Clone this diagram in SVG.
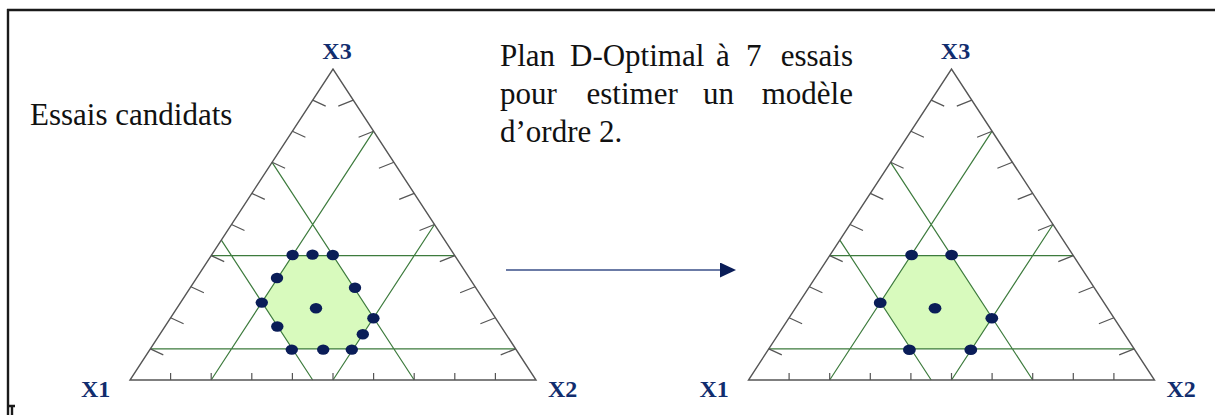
<svg xmlns="http://www.w3.org/2000/svg" xmlns:xlink="http://www.w3.org/1999/xlink" width="1215" height="415" viewBox="0 0 1215 415">
<style>
.frame{fill:none;stroke:#1a1a1a;stroke-width:2.4}
.tri{fill:none;stroke:#555;stroke-width:1.4;stroke-linejoin:miter}
.tick{fill:none;stroke:#555;stroke-width:1.2}
.grid{fill:none;stroke:#3d7b3d;stroke-width:1.2}
.hex{fill:#d8fabd;stroke:none}
.dot{fill:#0a1d58}
.lbl{font-family:"Liberation Serif","Times New Roman",serif;font-weight:bold;font-size:24px;fill:#112d6e}
.txt{font-family:"Liberation Serif","Times New Roman",serif;font-size:31px;fill:#111}
.arrow{fill:none;stroke:#3a4f88;stroke-width:1.6}
</style>
<defs>
<marker id="ah" markerUnits="userSpaceOnUse" markerWidth="18" markerHeight="18" refX="2" refY="7.5" orient="auto">
<path d="M0 0 L16 7.5 L0 15 Z" fill="#0a1d58"/>
</marker>
<g id="plot">
<polygon class="hex" points="292.4,255.6 333,255.6 373.6,317.8 353.3,348.9 292.4,348.9 261.95,302.25"/>
<path class="grid" d="M150.3 348.9 H515.7 M211.2 255.6 H454.8 M211.2 380 L373.6 131.2 M333 380 L434.5 224.5 M414.2 380 L272.1 162.3 M312.7 380 L221.35 240.05"/>
<polygon class="tri" points="130,380 536,380 333,69"/>
<path class="tick" d="M150.3 348.9 l13 6 M170.6 317.8 l13 6 M190.9 286.7 l13 6 M211.2 255.6 l13 6 M231.5 224.5 l13 6 M251.8 193.4 l13 6 M272.1 162.3 l13 6 M292.4 131.2 l13 6 M312.7 100.1 l13 6
M515.7 348.9 l-15 6 M495.4 317.8 l-15 6 M475.1 286.7 l-15 6 M454.8 255.6 l-15 6 M434.5 224.5 l-15 6 M414.2 193.4 l-15 6 M393.9 162.3 l-15 6 M373.6 131.2 l-15 6 M353.3 100.1 l-15 6
M170.6 380 v-7 M211.2 380 v-7 M251.8 380 v-7 M292.4 380 v-7 M333 380 v-7 M373.6 380 v-7 M414.2 380 v-7 M454.8 380 v-7 M495.4 380 v-7"/>
<text class="lbl" x="337" y="59" text-anchor="middle">X3</text>
<text class="lbl" x="81" y="397">X1</text>
<text class="lbl" x="548" y="397">X2</text>
</g>
</defs>
<g id="frame">
<path class="frame" d="M7 10 H1215 M8 9 V415"/>
<path class="frame" d="M8 406 H15 M12 406 V415"/>
</g>
<g id="left-plot">
<use xlink:href="#plot"/>
<g class="dots">
<ellipse class="dot" cx="292.6" cy="255" rx="6.2" ry="5.2"/>
<ellipse class="dot" cx="312.5" cy="254.6" rx="6.2" ry="5.2"/>
<ellipse class="dot" cx="332.8" cy="255" rx="6.2" ry="5.2"/>
<ellipse class="dot" cx="277" cy="278" rx="6.2" ry="5.2"/>
<ellipse class="dot" cx="261.8" cy="302.6" rx="6.2" ry="5.2"/>
<ellipse class="dot" cx="277.3" cy="326.5" rx="6.2" ry="5.2"/>
<ellipse class="dot" cx="291.8" cy="349.6" rx="6.2" ry="5.2"/>
<ellipse class="dot" cx="323.2" cy="349.6" rx="6.2" ry="5.2"/>
<ellipse class="dot" cx="351.8" cy="349.6" rx="6.2" ry="5.2"/>
<ellipse class="dot" cx="362.8" cy="334.2" rx="6.2" ry="5.2"/>
<ellipse class="dot" cx="373.4" cy="318.2" rx="6.2" ry="5.2"/>
<ellipse class="dot" cx="355" cy="287.8" rx="6.2" ry="5.2"/>
<ellipse class="dot" cx="316" cy="308.3" rx="6.2" ry="5.2"/>
</g>
</g>
<g id="right-plot">
<use xlink:href="#plot" transform="translate(618.5,0)"/>
<g class="dots">
<ellipse class="dot" cx="911.6" cy="255" rx="6.4" ry="5.3"/>
<ellipse class="dot" cx="951.6" cy="255" rx="6.4" ry="5.3"/>
<ellipse class="dot" cx="991.8" cy="318.3" rx="6.4" ry="5.3"/>
<ellipse class="dot" cx="970.8" cy="349.8" rx="6.4" ry="5.3"/>
<ellipse class="dot" cx="909.4" cy="349.8" rx="6.4" ry="5.3"/>
<ellipse class="dot" cx="880.2" cy="302.7" rx="6.4" ry="5.3"/>
<ellipse class="dot" cx="935" cy="308.3" rx="6.4" ry="5.3"/>
</g>
</g>
<g id="connectors">
<line class="arrow" x1="506" y1="270" x2="722" y2="270" marker-end="url(#ah)"/>
</g>
<g id="caption-left">
<text class="txt" x="30" y="125">Essais candidats</text>
</g>
<g id="caption-right">
<text class="txt" y="65.5"><tspan x="500">Plan</tspan><tspan x="570">D-Optimal</tspan><tspan x="716">à</tspan><tspan x="746">7</tspan></text>
<text class="txt" x="853" y="65.5" text-anchor="end">essais</text>
<text class="txt" y="104"><tspan x="500">pour</tspan><tspan x="586.5">estimer</tspan><tspan x="703">un</tspan></text>
<text class="txt" x="853" y="104" text-anchor="end">modèle</text>
<text class="txt" x="500" y="142">d’ordre 2.</text>
</g>
</svg>
